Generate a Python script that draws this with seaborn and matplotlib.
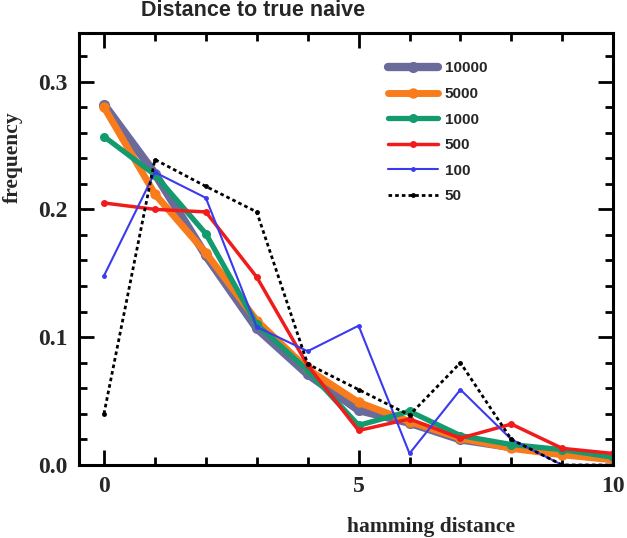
import pandas as pd
import matplotlib.pyplot as plt
import seaborn as sns

sns.set_style("ticks")

hamming = [0, 1, 2, 3, 4, 5, 6, 7, 8, 9, 10]

freq_10000 = [0.282, 0.228, 0.164, 0.107, 0.071, 0.043, 0.033, 0.020, 0.014, 0.009, 0.005]
freq_5000 = [0.280, 0.212, 0.166, 0.113, 0.075, 0.049, 0.034, 0.021, 0.013, 0.008, 0.004]
freq_1000 = [0.257, 0.227, 0.181, 0.110, 0.074, 0.031, 0.042, 0.023, 0.016, 0.012, 0.006]
freq_500 = [0.205, 0.200, 0.198, 0.147, 0.078, 0.027, 0.036, 0.021, 0.032, 0.013, 0.009]
freq_100 = [0.148, 0.229, 0.209, 0.108, 0.089, 0.109, 0.009, 0.059, 0.020, 0.0, 0.0]
freq_50 = [0.040, 0.239, 0.218, 0.198, 0.079, 0.059, 0.039, 0.080, 0.020, 0.0, 0.0]

series_labels = ["10000", "5000", "1000", "500", "100", "50"]
series_values = [freq_10000, freq_5000, freq_1000, freq_500, freq_100, freq_50]

colors = ["#6b6b9b", "#f97c1c", "#139a6e", "#f01c1c", "#3a3aee", "black"]
widths = [6.0, 5.0, 3.8, 2.5, 1.5, 2.0]
msizes = [8, 7.5, 6.5, 5, 3.5, 3.5]
styles = ["-", "-", "-", "-", "-", (0, (1.3, 1.1))]

fig = plt.figure(figsize=(6.27, 5.38), dpi=100)
ax = fig.add_axes([0.126, 0.1357, 0.852, 0.803])

for label, vals, c, lw, ms, ls in zip(series_labels, series_values, colors, widths, msizes, styles):
    df = pd.DataFrame({"hamming": hamming, "freq": vals})
    sns.lineplot(
        data=df,
        x="hamming",
        y="freq",
        ax=ax,
        color=c,
        linewidth=lw,
        linestyle=ls,
        marker="o",
        markersize=ms,
        markeredgewidth=0,
        label=label,
    )

ax.set_xlim(-0.49, 10)
ax.set_ylim(0, 0.338)
ax.set_xticks([0, 5, 10])
ax.set_xticks(range(11), minor=True)
ax.set_yticks([0.0, 0.1, 0.2, 0.3])
ax.set_yticks([i * 0.02 for i in range(17)], minor=True)
ax.set_xticklabels(["0", "5", "10"])
ax.set_yticklabels(["0.0", "0.1", "0.2", "0.3"])

for s in ax.spines.values():
    s.set_visible(True)
    s.set_linewidth(2.2)
    s.set_color("black")

ax.tick_params(which="both", direction="in", top=True, right=True, width=2, color="black")
ax.tick_params(which="major", length=11, pad=8)
ax.tick_params(which="minor", length=6)
for t in ax.get_xticklabels() + ax.get_yticklabels():
    t.set_family("Liberation Serif")
    t.set_fontweight("bold")
    t.set_fontsize(17)

ax.set_xlabel("hamming distance", family="Liberation Serif", fontweight="bold", fontsize=15.5)
ax.set_ylabel("frequency", family="Liberation Serif", fontweight="bold", fontsize=15.5)
ax.xaxis.set_label_coords(0.659, -0.12)
ax.yaxis.set_label_coords(-0.105, 0.713)

fig.text(0.403, 0.98, "Distance to true naive", family="Liberation Sans",
         fontweight="bold", fontsize=15.5, ha="center", va="center")

leg = ax.legend(
    loc="upper left",
    bbox_to_anchor=(0.5635, 0.952),
    frameon=False,
    borderpad=0,
    handlelength=3.3,
    handletextpad=0.45,
    labelspacing=0.76,
    prop={"family": "Liberation Sans", "weight": "bold", "size": 11},
)

plt.savefig("out.png", dpi=100)
